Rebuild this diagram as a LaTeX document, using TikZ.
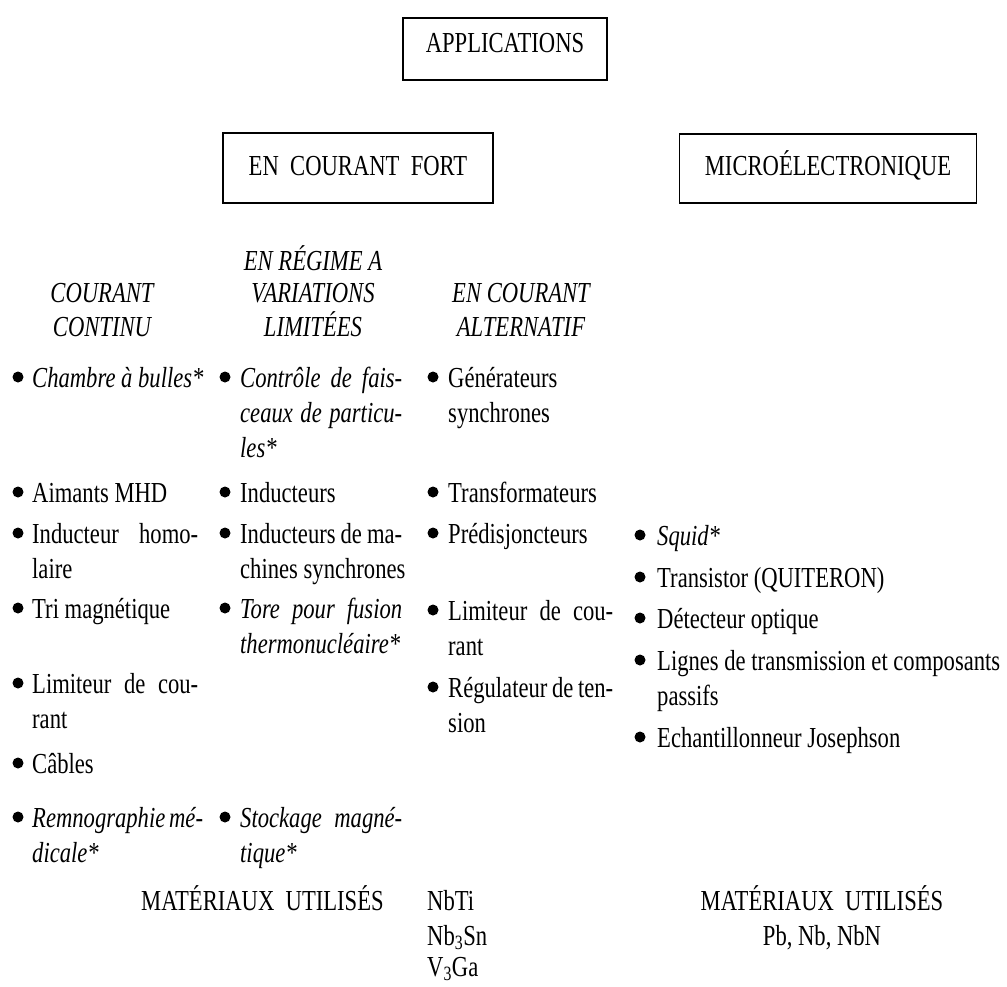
\documentclass[tikz,border=0pt]{standalone}
\usepackage{fontspec}
\setmainfont{Liberation Serif}[FakeStretch=0.78]
\newcommand\J[1]{\makebox[\linewidth][s]{#1}}
\newcommand\M[1]{\mbox{#1}}
\tikzset{
  boxframe/.style={draw, line width=1.4pt, inner sep=0pt},
  txt/.style={anchor=base west, inner sep=0pt, font=\fontsize{29}{35}\selectfont},
  ctxt/.style={anchor=base, inner sep=0pt, font=\fontsize{29}{36}\selectfont},
  hdr/.style={anchor=base, inner sep=0pt, font=\fontsize{29}{36}\selectfont\itshape},
  dot/.style={circle, fill, inner sep=0pt, minimum size=11pt},
}
\newcommand\itm[6]{%
  \node[dot] (#1b) at (#2,#4-10) {};
  \node[txt] (#1) at (#3,#4) {\parbox[t]{#5pt}{#6}};
}
\begin{document}
\begin{tikzpicture}[x=1pt,y=-1pt]
\useasboundingbox (0,0) rectangle (1007,986);
% boxes
\node[boxframe, minimum width=204pt, minimum height=62pt] (app) at (505,49) {};
\node[ctxt] (appt) at (505,52) {APPLICATIONS};
\node[boxframe, minimum width=270pt, minimum height=70pt] (fort) at (358,168) {};
\node[ctxt] (fortt) at (358,175) {EN\ \ COURANT\ \ FORT};
\node[boxframe, minimum width=297pt, minimum height=69pt] (micro) at (828,168.5) {};
\node[ctxt] (microt) at (828,175) {MICROÉLECTRONIQUE};
% column headers
\node[hdr] (h1a) at (102,302) {COURANT};
\node[hdr] (h1b) at (102,336) {CONTINU};
\node[hdr] (h2a) at (313,270) {EN RÉGIME A};
\node[hdr] (h2b) at (313,302) {VARIATIONS};
\node[hdr] (h2c) at (313,336) {LIMITÉES};
\node[hdr] (h3a) at (521,302) {EN COURANT};
\node[hdr] (h3b) at (521,336) {ALTERNATIF};
% column 1
\itm{c1a}{18}{32}{387}{166}{\M{\textit{Chambre à bulles*}}}
\itm{c1b}{18}{32}{502}{166}{Aimants MHD}
\itm{c1c}{18}{32}{543}{166}{\J{Inducteur homo-}\\laire}
\itm{c1d}{18}{32}{618}{166}{Tri magnétique}
\itm{c1e}{18}{32}{693}{166}{\J{Limiteur de cou-}\\rant}
\itm{c1f}{18}{32}{773}{166}{Câbles}
\itm{c1g}{18}{32}{827}{166}{\itshape\J{Remnographie mé-}\\dicale*}
% column 2
\itm{c2a}{225}{240}{387}{162}{\itshape\J{Contrôle de fais-}\\\J{ceaux de particu-}\\les*}
\itm{c2b}{225}{240}{502}{162}{Inducteurs}
\itm{c2c}{225}{240}{543}{162}{\J{Inducteurs de ma-}\\\M{chines synchrones}}
\itm{c2d}{225}{240}{618}{162}{\itshape\J{Tore pour fusion}\\\M{thermonucléaire*}}
\itm{c2e}{225}{240}{827}{162}{\itshape\J{Stockage magné-}\\tique*}
% column 3
\itm{c3a}{433}{448}{387}{165}{Générateurs\\synchrones}
\itm{c3b}{433}{448}{502}{165}{\M{Transformateurs}}
\itm{c3c}{433}{448}{543}{165}{\M{Prédisjoncteurs}}
\itm{c3d}{433}{448}{620}{165}{\J{Limiteur de cou-}\\rant}
\itm{c3e}{433}{448}{697}{165}{\J{Régulateur de ten-}\\sion}
% column 4
\itm{c4a}{640}{657}{545}{345}{\textit{Squid*}}
\itm{c4b}{640}{657}{587}{345}{\M{Transistor (QUITERON)}}
\itm{c4c}{640}{657}{628}{345}{\M{Détecteur optique}}
\itm{c4d}{640}{657}{670}{345}{\M{Lignes de transmission et composants}\\passifs}
\itm{c4e}{640}{657}{747}{345}{\M{Echantillonneur Josephson}}
% materials
\node[txt] (mat1) at (141,910) {MATÉRIAUX\ \ UTILISÉS};
\node[txt] (m1) at (427,910) {NbTi};
\node[txt] (m2) at (427,945) {Nb\textsubscript{3}Sn};
\node[txt] (m3) at (427,976) {V\textsubscript{3}Ga};
\node[ctxt] (mat2) at (822,910) {MATÉRIAUX\ \ UTILISÉS};
\node[ctxt] (m4) at (822,945) {Pb, Nb, NbN};
\end{tikzpicture}
\end{document}
